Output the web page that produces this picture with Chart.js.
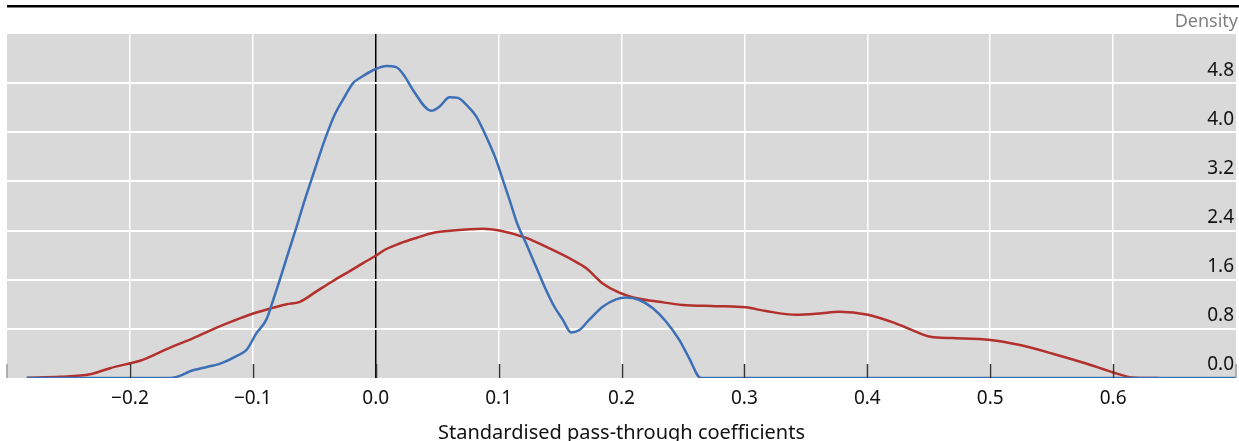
<!DOCTYPE html>
<html>
<head>
  <title>Pass-through density</title>
  <script src="https://cdn.jsdelivr.net/npm/chart.js"></script>
  <style>
    html, body { margin: 0; padding: 0; background: #fff; overflow: hidden; }
    #wrap { position: relative; width: 1239px; height: 441px; }
  </style>
</head>
<body>
  <div id="wrap"><canvas id="chart" width="1239" height="441"></canvas></div>

  <script>
    // Blue density curve
    const blueX = [-0.284, -0.2, -0.167, -0.148, -0.1375, -0.127, -0.113, -0.105, -0.097, -0.089,
      -0.0834, -0.078, -0.0725, -0.0644, -0.0577, -0.0496, -0.0414, -0.0333, -0.0252, -0.0184,
      -0.0116, 0.0, 0.0087, 0.0168, 0.0236, 0.0303, 0.0452, 0.052, 0.0601, 0.0669, 0.0737,
      0.0818, 0.0899, 0.098, 0.1034, 0.1089, 0.1156, 0.1224, 0.1305, 0.1387, 0.1454,
      0.1522, 0.159, 0.1657, 0.1738, 0.1847, 0.1955, 0.2037, 0.2145, 0.2253, 0.2362, 0.247,
      0.2551, 0.2646, 0.3, 0.4, 0.5, 0.6, 0.7];
    const blueY = [0, 0, 0, 0.13, 0.18, 0.23, 0.36, 0.46, 0.73, 0.95,
      1.27, 1.60, 1.95, 2.46, 2.90, 3.39, 3.88, 4.29, 4.58, 4.80,
      4.90, 5.03, 5.08, 5.06, 4.91, 4.69, 4.35, 4.42, 4.57, 4.56, 4.45,
      4.26, 3.93, 3.55, 3.23, 2.90, 2.49, 2.19, 1.81, 1.43, 1.16,
      0.95, 0.74, 0.78, 0.95, 1.16, 1.28, 1.31, 1.27, 1.14, 0.92, 0.62,
      0.32, 0, 0, 0, 0, 0, 0];

    // Red density curve
    const redX = [-0.2838, -0.2567, -0.2323, -0.2161, -0.1998, -0.1917, -0.17, -0.1484, -0.1294,
      -0.1159, -0.0997, -0.0861, -0.0725, -0.0617, -0.0482, -0.0347, -0.0211, -0.0103, 0.0,
      0.0087, 0.0195, 0.033, 0.0465, 0.0628, 0.0872, 0.1007, 0.1224, 0.1413, 0.1603, 0.1711,
      0.1847, 0.1982, 0.2145, 0.2307, 0.2496, 0.2768, 0.3011, 0.3174, 0.3418, 0.3607, 0.3769,
      0.4005, 0.423, 0.4365, 0.4514, 0.469, 0.5002, 0.5232, 0.5502, 0.5773, 0.6003, 0.6152, 0.6369];
    const redY = [0.005, 0.02, 0.06, 0.16, 0.24, 0.28, 0.47, 0.65, 0.82,
      0.93, 1.05, 1.13, 1.20, 1.24, 1.41, 1.58, 1.74, 1.87, 1.99,
      2.10, 2.19, 2.28, 2.36, 2.40, 2.43, 2.40, 2.28, 2.11, 1.92, 1.79,
      1.54, 1.39, 1.29, 1.24, 1.19, 1.17, 1.15, 1.09, 1.03, 1.05, 1.08,
      1.03, 0.89, 0.78, 0.67, 0.65, 0.62, 0.54, 0.40, 0.24, 0.09, 0.01, 0];

    const yTickLabels = ['0.0', '0.8', '1.6', '2.4', '3.2', '4.0', '4.8'];
    const xTickLabels = ['\u22120.2', '\u22120.1', '0.0', '0.1', '0.2', '0.3', '0.4', '0.5', '0.6'];
    const xTickValues = [-0.2, -0.1, 0.0, 0.1, 0.2, 0.3, 0.4, 0.5, 0.6];
    const yUnit = 'Density';
    const xTitle = 'Standardised pass-through coefficients';

    const FONT = '"Noto Sans", "Open Sans", sans-serif';

    function toPoints(xs, ys) {
      return xs.map((x, i) => ({ x: x, y: ys[i] }));
    }

    function near(a, b) { return Math.abs(a - b) < 1e-6; }

    // grey panel, ticks, rule and texts around the plot
    const decor = {
      id: 'decor',
      beforeDraw(chart) {
        const { ctx, chartArea: a } = chart;
        ctx.save();
        ctx.fillStyle = '#d9d9d9';
        ctx.fillRect(a.left, a.top, a.right - a.left, a.bottom - a.top);
        ctx.restore();
      },
      afterDatasetsDraw(chart) {
        const { ctx, chartArea: a } = chart;
        const xs = chart.scales.x;
        ctx.save();
        // inner tick marks at the bottom
        ctx.lineWidth = 1.5;
        for (let v = -0.3; v <= 0.7001; v += 0.1) {
          const edge = near(v, -0.3) || near(v, 0.7);
          ctx.strokeStyle = edge ? '#9a9a9a' : '#333';
          const px = Math.round(xs.getPixelForValue(v)) + (edge ? 0 : 0.5);
          ctx.beginPath();
          ctx.moveTo(px, a.bottom - 14);
          ctx.lineTo(px, a.bottom);
          ctx.stroke();
        }
        // top rule
        ctx.fillStyle = '#000';
        ctx.fillRect(a.left, 5, chart.width - a.left, 2.5);
        // unit label
        ctx.font = '18px ' + FONT;
        ctx.fillStyle = '#7f7f7f';
        ctx.textAlign = 'right';
        ctx.textBaseline = 'middle';
        ctx.fillText(yUnit, chart.width - 1, 22);
        // axis title
        ctx.font = '20px ' + FONT;
        ctx.fillStyle = '#111';
        ctx.textAlign = 'center';
        ctx.textBaseline = 'alphabetic';
        ctx.fillText(xTitle, (a.left + a.right) / 2, 439);
        ctx.restore();
      }
    };

    const ctx = document.getElementById('chart').getContext('2d');
    const chart = new Chart(ctx, {
      type: 'line',
      data: {
        datasets: [
          {
            label: 'Blue',
            data: toPoints(blueX, blueY),
            borderColor: '#3d6fb6',
            borderWidth: 2.5,
            pointRadius: 0,
            cubicInterpolationMode: 'monotone',
            clip: 0
          },
          {
            label: 'Red',
            data: toPoints(redX, redY),
            borderColor: '#b2312d',
            borderWidth: 2.5,
            pointRadius: 0,
            cubicInterpolationMode: 'monotone',
            clip: 0
          }
        ]
      },
      options: {
        responsive: false,
        animation: false,
        layout: { padding: { left: 7, right: 3, top: 34, bottom: 0 } },
        plugins: {
          legend: { display: false },
          tooltip: { enabled: false }
        },
        scales: {
          x: {
            type: 'linear',
            min: -0.3,
            max: 0.7,
            afterBuildTicks(scale) {
              scale.ticks = [-0.3].concat(xTickValues, [0.7]).map(v => ({ value: v }));
            },
            afterFit(scale) {
              scale.height = 63;
              scale.paddingLeft = 0;
              scale.paddingRight = 0;
            },
            border: { display: false },
            grid: {
              drawTicks: false,
              lineWidth: 1.5,
              color(c) {
                const v = c.tick.value;
                if (near(v, -0.3) || near(v, 0.7)) return 'rgba(0,0,0,0)';
                return near(v, 0) ? '#000' : '#ffffff';
              }
            },
            ticks: {
              autoSkip: false,
              maxRotation: 0,
              padding: 9,
              color: '#111',
              font: { family: FONT, size: 19 },
              callback(value) {
                const i = xTickValues.findIndex(v => near(v, value));
                return i >= 0 ? xTickLabels[i] : '';
              }
            }
          },
          y: {
            type: 'linear',
            position: 'right',
            min: 0,
            max: 5.6,
            afterBuildTicks(scale) {
              scale.ticks = [0, 0.8, 1.6, 2.4, 3.2, 4.0, 4.8, 5.6].map(v => ({ value: v }));
            },
            afterFit(scale) {
              scale.width = 0;
              scale.paddingTop = 0;
              scale.paddingBottom = 0;
            },
            border: { display: false },
            grid: {
              drawTicks: false,
              lineWidth: 2,
              color(c) {
                const v = c.tick.value;
                return (near(v, 0) || near(v, 5.6)) ? 'rgba(0,0,0,0)' : '#ffffff';
              }
            },
            ticks: {
              mirror: true,
              padding: -2,
              labelOffset: -13,
              color: '#111',
              font: { family: FONT, size: 19 },
              callback(value) {
                const i = Math.round(value / 0.8);
                return (near(i * 0.8, value) && i < yTickLabels.length) ? yTickLabels[i] : '';
              }
            }
          }
        }
      },
      plugins: [decor]
    });
  </script>
</body>
</html>
